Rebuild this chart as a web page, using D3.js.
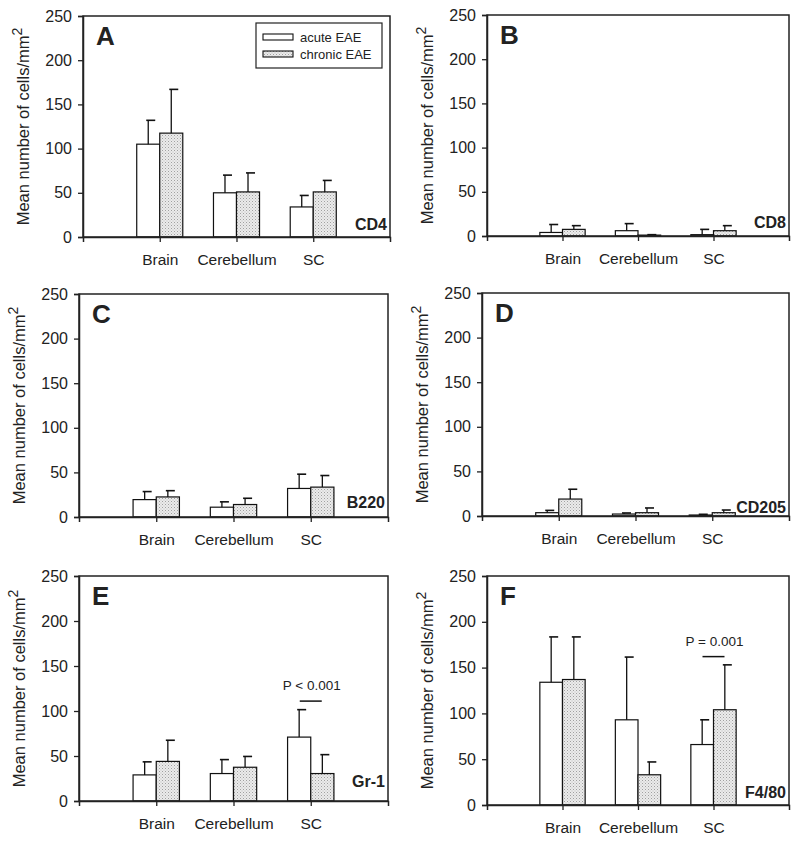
<!DOCTYPE html>
<html><head><meta charset="utf-8">
<script src="https://cdn.jsdelivr.net/npm/d3@7/dist/d3.min.js"></script>
<style>
html,body{margin:0;padding:0;background:#fff;}
svg{display:block;}
text{font-family:"Liberation Sans",Arial,sans-serif;fill:#222;}
</style></head>
<body>
<svg id="chart" width="800" height="842"></svg>
<script>
// ---------- data ----------
const categories = ["Brain", "Cerebellum", "SC"];
const seriesNames = ["acute EAE", "chronic EAE"];
const panelLetters = ["A", "B", "C", "D", "E", "F"];
const markers = ["CD4", "CD8", "B220", "CD205", "Gr-1", "F4/80"];
const yTicks = [0, 50, 100, 150, 200, 250];
// mean values (cells/mm2) per panel, per category
const acuteMeans   = [[105, 50, 34], [4, 6, 1.5], [19.5, 11, 32], [3.7, 2.2, 1.1], [29, 30.5, 71], [134, 93, 66]];
const acuteUpper   = [[132, 70, 47], [13, 14, 7.5], [28.5, 17, 48], [6.3, 3.4, 1.9], [43.5, 46, 101.5], [183.5, 161.5, 93]];
const chronicMeans = [[117.5, 51, 51], [7.5, 1, 6], [22.5, 14, 33.5], [19, 3.7, 3.7], [44, 37.5, 30.5], [137, 33, 104]];
const chronicUpper = [[167, 72.5, 64], [11.7, 1.5, 11.7], [29.5, 21, 46.5], [30, 9, 6.7], [67.5, 49.5, 51.5], [183.5, 47, 153]];
const sigLabels = [null, null, null, null, "P < 0.001", "P = 0.001"];
const sigCategory = [null, null, null, null, "SC", "SC"];
const sigLevel = [null, null, null, null, 111, 162];

// ---------- layout ----------
const plotRects = [
  [83, 16, 390, 237],
  [487, 15, 789, 236],
  [79, 294, 388, 517],
  [482, 293, 789, 516],
  [79, 576, 388, 801],
  [487, 576, 789, 805]
];
const markerOffset = [7, 8, 9, 3, 14, 7];

const svg = d3.select("#chart");
const defs = svg.append("defs");
const pat = defs.append("pattern").attr("id", "stipple").attr("patternUnits", "userSpaceOnUse")
  .attr("width", 3).attr("height", 3);
pat.append("rect").attr("width", 3).attr("height", 3).attr("fill", "#ebebeb");
pat.append("rect").attr("x", 0).attr("y", 0).attr("width", 1).attr("height", 1).attr("fill", "#a0a0a0");
pat.append("rect").attr("x", 1.5).attr("y", 1.5).attr("width", 1).attr("height", 1).attr("fill", "#bcbcbc");

const fills = ["#ffffff", "url(#stipple)"];

panelLetters.forEach((letter, p) => {
  const [x0, y0, x1, y1] = plotRects[p];
  const g = svg.append("g");
  const x = d3.scaleLinear().domain([0, 4]).range([x0, x1]);
  const y = d3.scaleLinear().domain([0, 250]).range([y1, y0]);
  const catPos = c => x(categories.indexOf(c) + 1);
  const bw = x(0.3) - x(0);

  const bars = [];
  categories.forEach((c, i) => {
    bars.push({s: 0, c, v: acuteMeans[p][i], u: acuteUpper[p][i]});
    bars.push({s: 1, c, v: chronicMeans[p][i], u: chronicUpper[p][i]});
  });
  g.selectAll("rect.bar").data(bars).enter().append("rect")
    .attr("x", d => d.s === 0 ? catPos(d.c) - bw : catPos(d.c))
    .attr("y", d => y(d.v))
    .attr("width", bw)
    .attr("height", d => y(0) - y(d.v))
    .attr("fill", d => fills[d.s])
    .attr("stroke", "#111").attr("stroke-width", 1.2);
  bars.forEach(d => {
    const cx = (d.s === 0 ? catPos(d.c) - bw / 2 : catPos(d.c) + bw / 2);
    g.append("line").attr("x1", cx).attr("x2", cx).attr("y1", y(d.v)).attr("y2", y(d.u))
      .attr("stroke", "#111").attr("stroke-width", 1.3);
    g.append("line").attr("x1", cx - 2).attr("x2", cx + 7).attr("y1", y(d.u)).attr("y2", y(d.u))
      .attr("stroke", "#111").attr("stroke-width", 1.6);
  });

  // frame
  g.append("rect").attr("x", x0).attr("y", y0).attr("width", x1 - x0).attr("height", y1 - y0)
    .attr("fill", "none").attr("stroke", "#222").attr("stroke-width", 1.5);

  // y axis
  const yAxis = d3.axisLeft(y).tickValues(yTicks).tickSize(5).tickPadding(6).tickFormat(d3.format("d"));
  const ya = g.append("g").attr("transform", `translate(${x0},0)`).call(yAxis);
  ya.select(".domain").attr("stroke", "#222").attr("stroke-width", 1.5);
  ya.selectAll(".tick line").attr("stroke", "#222").attr("stroke-width", 1.3);
  ya.selectAll(".tick text").attr("font-size", 16).attr("fill", "#222")
    .attr("font-family", "'Liberation Sans', Arial, sans-serif");

  // x axis
  const xAxis = d3.axisBottom(x).tickValues([1, 2, 3]).tickSize(5).tickPadding(12)
    .tickFormat(d => categories[d - 1]);
  const xa = g.append("g").attr("transform", `translate(0,${y1})`).call(xAxis);
  xa.select(".domain").attr("stroke", "#222").attr("stroke-width", 1.5);
  xa.selectAll(".tick line").attr("stroke", "#222").attr("stroke-width", 1.3);
  xa.selectAll(".tick text").attr("font-size", 15.5).attr("fill", "#222")
    .attr("font-family", "'Liberation Sans', Arial, sans-serif");

  // y label
  const lab = g.append("text")
    .attr("transform", `translate(${x0 - 54},${(y0 + y1) / 2}) rotate(-90)`)
    .attr("text-anchor", "middle").attr("font-size", 16.5);
  lab.append("tspan").text("Mean number of cells/mm");
  lab.append("tspan").attr("dy", -7).attr("font-size", 14).text("2");

  // panel letter
  g.append("text").attr("x", x0 + 13).attr("y", y0 + 29).attr("font-size", 26)
    .attr("font-weight", "bold").attr("fill", "#000").text(letter);

  // marker
  g.append("text").attr("x", x1 - 3).attr("y", y1 - markerOffset[p]).attr("text-anchor", "end")
    .attr("font-size", 16).attr("font-weight", "bold").attr("fill", "#000").text(markers[p]);

  // significance
  if (sigLabels[p]) {
    const cx = catPos(sigCategory[p]);
    const ly = y(sigLevel[p]);
    g.append("line").attr("x1", cx - 11).attr("x2", cx + 11).attr("y1", ly).attr("y2", ly)
      .attr("stroke", "#111").attr("stroke-width", 1.5);
    g.append("text").attr("x", cx + 1).attr("y", ly - 11).attr("text-anchor", "middle")
      .attr("font-size", 13.5).text(sigLabels[p]);
  }

  // legend in panel A
  if (p === 0) {
    const lx = 256, ly = 23, lw = 126, lh = 45;
    g.append("rect").attr("x", lx).attr("y", ly).attr("width", lw).attr("height", lh)
      .attr("fill", "#fff").attr("stroke", "#222").attr("stroke-width", 1.2);
    seriesNames.forEach((s, i) => {
      const yy = ly + 11 + i * 17;
      g.append("rect").attr("x", lx + 7).attr("y", yy).attr("width", 30).attr("height", 6)
        .attr("fill", fills[i]).attr("stroke", "#111").attr("stroke-width", 1.1);
      g.append("text").attr("x", lx + 44).attr("y", yy + 7.5).attr("font-size", 13).text(s);
    });
  }
});
</script>
</body></html>
